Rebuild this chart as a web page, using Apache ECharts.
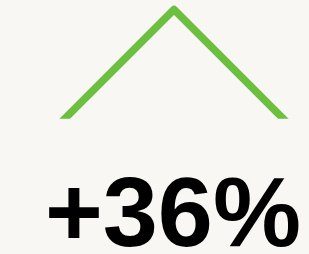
<!DOCTYPE html>
<html>
<head>
<meta charset="utf-8">
<script src="https://cdn.jsdelivr.net/npm/echarts@6/dist/echarts.min.js"></script>
<style>
  html, body { margin: 0; padding: 0; background: #f8f7f3; }
  #chart { width: 309px; height: 254px; }
</style>
</head>
<body>
<div id="chart"></div>
<script>
// trend arrow: up then down (chevron) and the headline change
const steps = [0, 1, 2];
const trend = [0, 1, 0];
const changePct = 36;

const chart = echarts.init(document.getElementById('chart'));
chart.setOption({
  backgroundColor: '#f8f7f3',
  animation: false,
  // the chevron legs run past the bottom of the grid and get cut flat
  // (echarts pads the clip by half the line width)
  grid: { left: 0, right: 0, top: 0, bottom: 139 },
  xAxis: { type: 'value', min: -0.4936, max: 2.1588, show: false },
  yAxis: { type: 'value', min: 0.0944, max: 1.0815, show: false },
  series: [{
    type: 'line',
    data: steps.map((s, i) => [s, trend[i]]),
    symbol: 'none',
    clip: true,
    lineStyle: { color: '#6dbf40', width: 7.5, join: 'round' }
  }],
  graphic: [{
    type: 'text',
    x: 45,
    y: 219,
    style: {
      text: '+' + changePct + '%',
      fill: '#000',
      font: 'bold 99px "Liberation Sans", Arial, sans-serif',
      verticalAlign: 'middle'
    }
  }]
});
</script>
</body>
</html>
